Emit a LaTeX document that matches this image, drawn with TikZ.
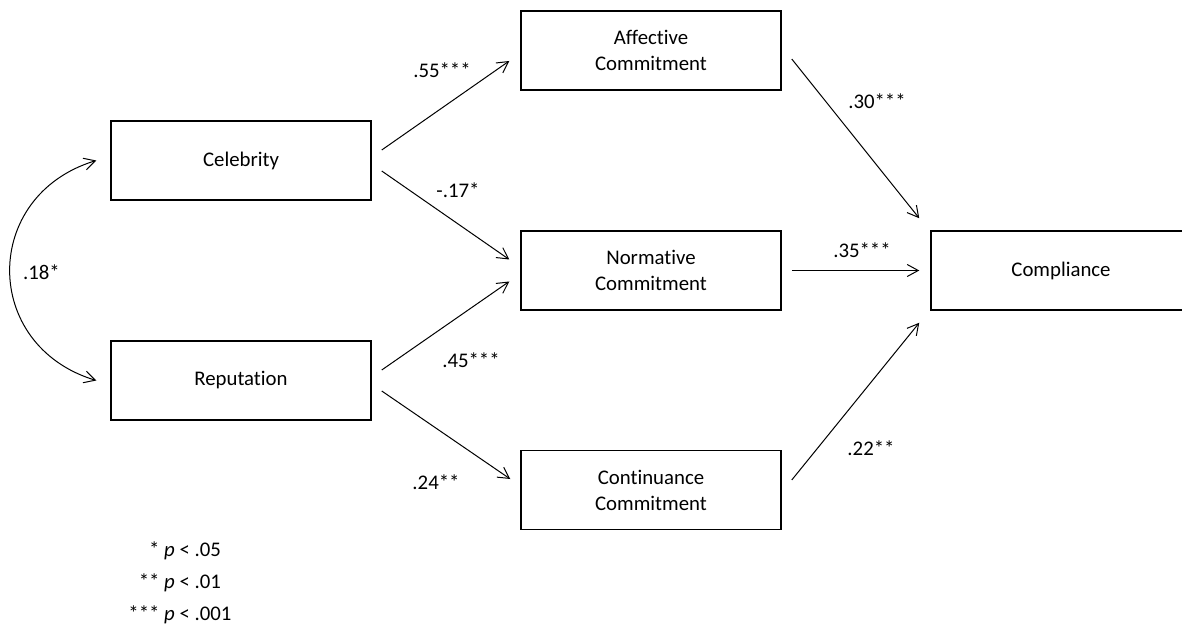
\documentclass[tikz,border=0pt]{standalone}
\usepackage{fontspec}
\setmainfont{Carlito}[Ligatures=NoCommon]
\usetikzlibrary{arrows.meta}

\begin{document}
\begin{tikzpicture}[x=0.5pt, y=-0.5pt,
  font=\fontsize{10.4}{13}\selectfont,
  barb/.tip = {Straight Barb[length=5.5pt, width=6pt]},
  factor/.style = {shape=rectangle, draw, line width=0.75pt,
    minimum width=130pt, minimum height=39.5pt,
    align=center, inner sep=0pt},
  effect/.style = {-barb, line width=0.5pt},
  coef/.style = {inner sep=0pt}]
  \useasboundingbox (0,0) rectangle (1182,625);
  % factors
  \node[factor] (cel) at (241,160.5) {Celebrity};
  \node[factor] (rep) at (241,380.5) {Reputation};
  \node[factor] (aff) at (651,50.5) {Affective\\Commitment};
  \node[factor] (nor) at (651,270.5) {Normative\\Commitment};
  \node[factor] (con) at (651,490) {Continuance\\Commitment};
  \node[factor] (cmp) at (1061,270.5) {Compliance};
  % paths
  \draw[effect] ([shift={(10,-10.5)}]cel.east) -- ([shift={(-11,10.5)}]aff.west);
  \draw[effect] ([shift={(10,10.5)}]cel.east) -- ([shift={(-11,-11)}]nor.west);
  \draw[effect] ([shift={(10,-10.5)}]rep.east) -- ([shift={(-11,11)}]nor.west);
  \draw[effect] ([shift={(10,10.5)}]rep.east) -- ([shift={(-10,-11)}]con.west);
  \draw[effect] ([shift={(10,8.5)}]aff.east) -- ([shift={(-11,-12)}]cmp.north west);
  \draw[effect] ([shift={(10,0)}]nor.east) -- ([shift={(-11,0)}]cmp.west);
  \draw[effect] ([shift={(10,-10)}]con.east) -- ([shift={(-11,12)}]cmp.south west);
  \draw[effect, barb-barb] ([shift={(-14,0)}]cel.west)
    .. controls +(-115,35) and +(-115,-35) .. ([shift={(-14,0)}]rep.west);
  % coefficients
  \node[coef] (c1) at (442,70) {.55***};
  \node[coef] (c2) at (458,190) {-.17*};
  \node[coef] (c3) at (471,360) {.45***};
  \node[coef] (c4) at (436,482) {.24**};
  \node[coef] (c5) at (877,101) {.30***};
  \node[coef] (c6) at (862,250) {.35***};
  \node[coef] (c7) at (871,448) {.22**};
  \node[coef] (c8) at (41.5,272) {.18*};
  % significance
  \node[coef, anchor=west, font=\fontsize{10.4}{16}\selectfont] (sig) at (128,582)
    {\begin{tabular}{@{}r@{ }l@{}}
      {*} & \textit{p} < .05\\
      {**} & \textit{p} < .01\\
      {***} & \textit{p} < .001
    \end{tabular}};
\end{tikzpicture}
\end{document}
